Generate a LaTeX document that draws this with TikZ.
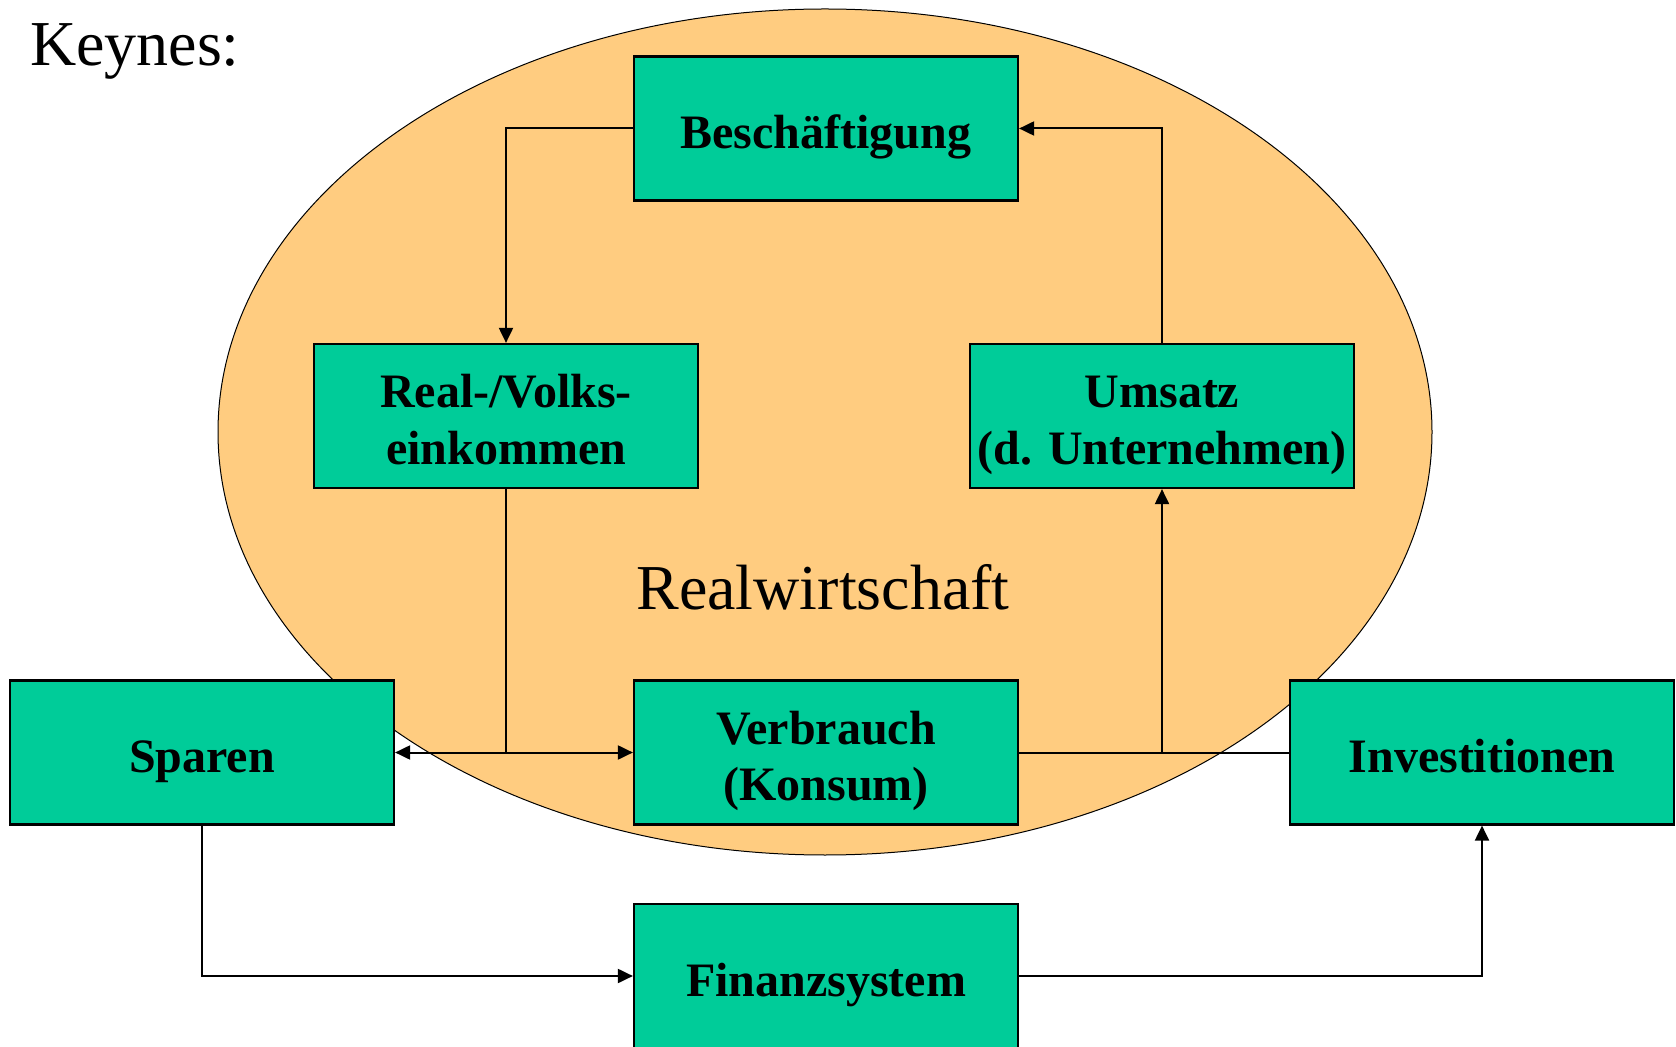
\documentclass[tikz,border=0pt]{standalone}
\usepackage{fontspec}
\setmainfont{Liberation Serif}
\usepackage{tikz}
\usetikzlibrary{arrows.meta}
\definecolor{boxgreen}{RGB}{0,204,153}
\definecolor{realorange}{RGB}{255,204,128}
\tikzset{every picture/.style={line width=1pt}}
\tikzset{
  flowbox/.style={draw, fill=boxgreen, line width=1.1pt, minimum width=192pt, minimum height=72pt,
    inner sep=0pt, align=center, font=\fontsize{24}{28.3}\selectfont\bfseries,
    text height=20pt, text depth=0pt},
  twoline/.style={text height=48.3pt, text depth=0pt},
  flowarrow/.style={-{Triangle[length=7.5pt,width=7pt]}},
  bigtext/.style={font=\fontsize{32}{38}\selectfont, inner sep=0pt}
}

\begin{document}
\begin{tikzpicture}[x=0.5pt,y=0.5pt,yscale=-1,xscale=1]
		\useasboundingbox (0,0) rectangle (1676,1047);
		
		%Shape: Ellipse [Realwirtschaft]
		\draw [fill=realorange, line width=0.5pt] (825,432) ellipse [x radius=607, y radius=423];
		
		%Text labels
		\node [bigtext, anchor=base west] (keynes) at (29,66) {Keynes:};
		\node [bigtext, anchor=base] (realw) at (823,610) {Realwirtschaft};
		
		%Shape: Rectangles
		\node [flowbox] (besch) at (826,128.5) {Beschäftigung};
		\node [flowbox, twoline] (volks) at (506,416) {Real-/Volks-\\einkommen};
		\node [flowbox, twoline] (umsatz) at (1162,416) {Umsatz\\(d. Unternehmen)};
		\node [flowbox] (sparen) at (202,752.5) {Sparen};
		\node [flowbox, twoline] (verbrauch) at (826,752.5) {Verbrauch\\(Konsum)};
		\node [flowbox] (invest) at (1482,752.5) {Investitionen};
		\node [flowbox] (finanz) at (826,976) {Finanzsystem};
		
		%Straight Lines
		\draw [flowarrow] (besch.west) -| (volks.north);
		\draw (volks.south) -- (volks.south |- verbrauch.west);
		\draw [{Triangle[length=7.5pt,width=7pt]}-{Triangle[length=7.5pt,width=7pt]}] (sparen.east) -- (verbrauch.west);
		\draw (verbrauch.east) -- (invest.west);
		\draw [flowarrow] (verbrauch.east -| umsatz.south) -- (umsatz.south);
		\draw [flowarrow] (umsatz.north) |- (besch.east);
		\draw [flowarrow] (sparen.south) |- (finanz.west);
		\draw [flowarrow] (finanz.east) -| (invest.south);
		
\end{tikzpicture}
\end{document}
